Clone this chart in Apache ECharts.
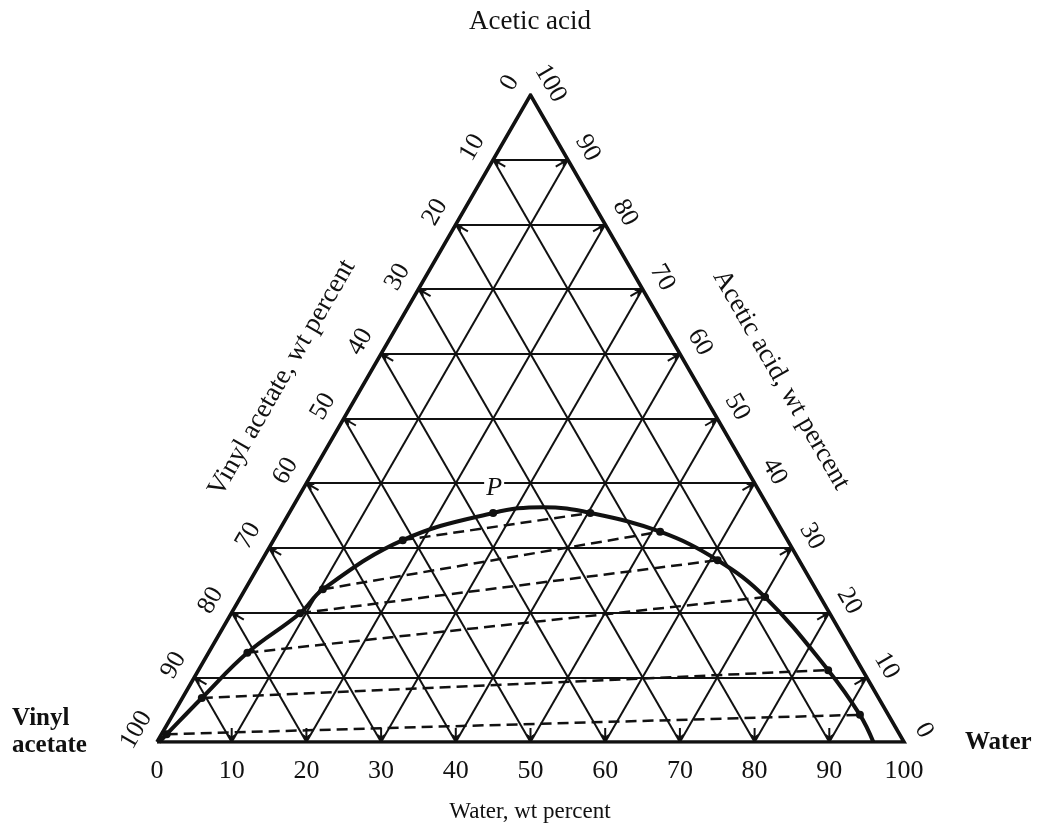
<!DOCTYPE html>
<html><head><meta charset="utf-8">
<script src="https://cdn.jsdelivr.net/npm/echarts@6/dist/echarts.min.js"></script>
<style>html,body{margin:0;padding:0;background:#fff}#c{width:1039px;height:837px}</style>
</head><body><div id="c"></div>
<script>
// ---- data (wt percent) ----
const tickValues = [0,10,20,30,40,50,60,70,80,90,100];
const gridLevels = [10,20,30,40,50,60,70,80,90];
// binodal (solubility) curve, water wt% and acetic acid wt%
const curveWater = [0.3, 0.7, 2.6, 5.2, 9.2, 10.4, 17.3, 27.3, 33.5, 40.3, 51.1, 61.0, 70.2, 84.3, 92.0, 95.9];
const curveAcid  = [0.0, 1.2, 6.8, 13.8, 19.9, 23.6, 31.2, 35.4, 36.3, 35.4, 32.5, 28.1, 22.4, 11.1, 4.2, 0.0];
// measured points on the curve (dots)
const dotWater = [0.7, 2.6, 5.2, 9.2, 10.4, 17.3, 27.3, 40.3, 51.1, 61.0, 70.2, 84.3, 92.0];
const dotAcid  = [1.2, 6.8, 13.8, 19.9, 23.6, 31.2, 35.4, 35.4, 32.5, 28.1, 22.4, 11.1, 4.2];
// tie lines: vinyl-acetate-rich end and water-rich end
const tieLeftWater  = [0.7, 2.6, 5.2, 9.2, 10.4, 17.3];
const tieLeftAcid   = [1.2, 6.8, 13.8, 19.9, 23.6, 31.2];
const tieRightWater = [92.0, 84.3, 70.2, 61.0, 51.1, 40.3];
const tieRightAcid  = [4.2, 11.1, 22.4, 28.1, 32.5, 35.4];
// plait point
const plaitWater = 27.3, plaitAcid = 35.4, plaitLabel = 'P';

// ---- ternary projection (water, acid) -> plane ----
const H = Math.sqrt(3) / 2;
function tx(w, a) { return [w + a / 2, a * H]; }

const FONT = '"Liberation Serif","Times New Roman","DejaVu Serif",serif';
const INK = '#111111';

// grid segments
const gridSegs = [];
gridLevels.forEach(g => {
  gridSegs.push({coords: [tx(0, g), tx(100 - g, g)]});      // constant acetic acid
  gridSegs.push({coords: [tx(g, 0), tx(g, 100 - g)]});      // constant water
  gridSegs.push({coords: [tx(100 - g, 0), tx(0, 100 - g)]});// constant vinyl acetate
});
const tieSegs = tieLeftWater.map((w, i) => ({coords: [tx(w, tieLeftAcid[i]), tx(tieRightWater[i], tieRightAcid[i])]}));
const border = [tx(0,0), tx(100,0), tx(0,100), tx(0,0)];
const curve = curveWater.map((w, i) => tx(w, curveAcid[i]));
const dots = dotWater.map((w, i) => tx(w, dotAcid[i]));

// arrow marks at edge ticks: [x, y, side]  side 0 bottom, 1 left, 2 right
const arrowData = [];
gridLevels.forEach(g => {
  arrowData.push(tx(g, 0).concat([0]));
  arrowData.push(tx(0, g).concat([1]));
  arrowData.push(tx(100 - g, g).concat([2]));
});
// tick labels: [x, y, side, label]
const labelData = [];
tickValues.forEach(t => {
  labelData.push(tx(t, 0).concat([0, t]));            // water along bottom
  labelData.push(tx(0, 100 - t).concat([1, t]));      // vinyl acetate on left edge
  labelData.push(tx(100 - t, t).concat([2, t]));      // acetic acid on right edge
});

const inward = [[0, -1], [0.866, 0.5], [-0.866, 0.5]];
function rot(v, ang) { const c = Math.cos(ang), s = Math.sin(ang); return [v[0]*c - v[1]*s, v[0]*s + v[1]*c]; }
function txt(extra) {
  return Object.assign({fill: INK, textAlign: 'center', textVerticalAlign: 'middle', align: 'center', verticalAlign: 'middle'}, extra);
}

const chart = echarts.init(document.getElementById('c'), null, {renderer: 'canvas'});
chart.setOption({
  backgroundColor: '#fff',
  animation: false,
  grid: {left: 157, width: 747, top: 95, height: 647},
  xAxis: {type: 'value', min: 0, max: 100, show: false},
  yAxis: {type: 'value', min: 0, max: 100 * H, show: false},
  series: [
    {type: 'lines', coordinateSystem: 'cartesian2d', data: gridSegs, silent: true,
     lineStyle: {color: INK, width: 2, opacity: 1}, z: 1},
    {type: 'line', data: border, showSymbol: false, silent: true,
     lineStyle: {color: INK, width: 3.6, join: 'miter'}, z: 3},
    {type: 'lines', coordinateSystem: 'cartesian2d', data: tieSegs, silent: true,
     lineStyle: {color: INK, width: 2.5, type: [11, 6], opacity: 1}, z: 2},
    {type: 'line', data: curve, smooth: 0.4, showSymbol: false, silent: true,
     lineStyle: {color: INK, width: 4}, z: 4},
    {type: 'scatter', data: dots, symbol: 'circle', symbolSize: 8, silent: true,
     itemStyle: {color: INK, opacity: 1}, z: 5},
    {type: 'custom', data: [tx(plaitWater, plaitAcid)], silent: true, z: 8,
     renderItem: function (params, api) {
       const p = api.coord([api.value(0), api.value(1)]);
       return {type: 'group', children: [
         {type: 'rect', shape: {x: p[0] - 9, y: p[1] - 38, width: 20, height: 24}, style: {fill: '#fff'}},
         {type: 'text', x: p[0] + 1, y: p[1] - 25,
          style: txt({text: plaitLabel, font: 'italic 26px ' + FONT})}
       ]};
     }},
    {type: 'custom', data: arrowData, silent: true, z: 3,
     renderItem: function (params, api) {
       const p = api.coord([api.value(0), api.value(1)]);
       const u = inward[api.value(2)];
       const L = 14, B = 8;
       const b1 = rot(u, 0.42), b2 = rot(u, -0.42);
       return {type: 'group', children: [
         {type: 'line', shape: {x1: p[0], y1: p[1], x2: p[0] + u[0]*L, y2: p[1] + u[1]*L},
          style: {stroke: INK, lineWidth: 2}},
         {type: 'polygon', shape: {points: [[p[0], p[1]], [p[0] + b1[0]*B, p[1] + b1[1]*B], [p[0] + u[0]*5, p[1] + u[1]*5], [p[0] + b2[0]*B, p[1] + b2[1]*B]]},
          style: {fill: INK, stroke: INK, lineWidth: 1}}
       ]};
     }},
    {type: 'custom', data: labelData, silent: true, z: 7,
     renderItem: function (params, api) {
       const p = api.coord([api.value(0), api.value(1)]);
       const side = api.value(2);
       let dx = 0, dy = 29, r = 0;
       if (side === 1) { dx = -0.866 * 24; dy = -0.5 * 24; r = Math.PI / 3; }
       if (side === 2) { dx = 0.866 * 23; dy = -0.5 * 23; r = -Math.PI / 3; }
       return {type: 'text', x: p[0] + dx, y: p[1] + dy, rotation: r,
         style: txt({text: String(api.value(3)), x: 0, y: 0, font: '26px ' + FONT})};
     }}
  ],
  graphic: [
    {type: 'text', x: 530, y: 22, style: txt({text: 'Acetic acid', font: '27px ' + FONT})},
    {type: 'text', x: 530, y: 812, style: txt({text: 'Water, wt percent', font: '23px ' + FONT})},
    {type: 'text', x: 282, y: 378, rotation: Math.PI / 3, style: txt({text: 'Vinyl acetate, wt percent', font: '27px ' + FONT})},
    {type: 'text', x: 781, y: 380, rotation: -Math.PI / 3, style: txt({text: 'Acetic acid, wt percent', font: '27px ' + FONT})},
    {type: 'text', x: 12, y: 719, style: txt({text: 'Vinyl', font: 'bold 25px ' + FONT, textAlign: 'left', align: 'left'})},
    {type: 'text', x: 12, y: 746, style: txt({text: 'acetate', font: 'bold 25px ' + FONT, textAlign: 'left', align: 'left'})},
    {type: 'text', x: 965, y: 743, style: txt({text: 'Water', font: 'bold 25px ' + FONT, textAlign: 'left', align: 'left'})}
  ]
});
</script></body></html>
